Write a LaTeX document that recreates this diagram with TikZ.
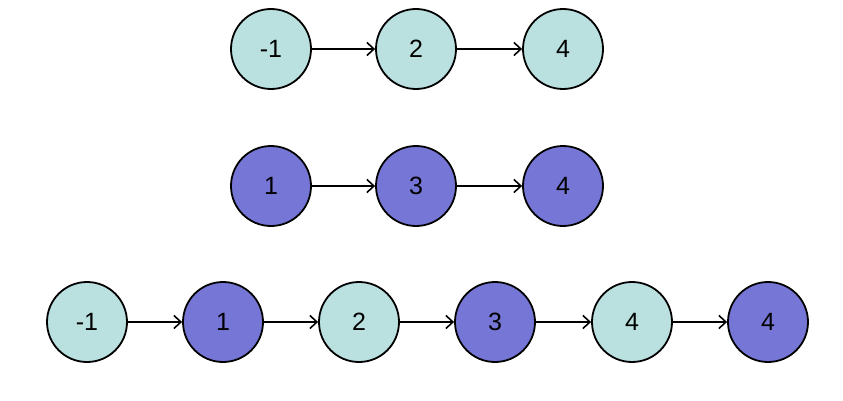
\documentclass[tikz,border=0pt]{standalone}
\usepackage{fontspec}
\setmainfont{Liberation Sans}
\usetikzlibrary{arrows.meta}
\definecolor{lightc}{HTML}{BAE0E0}
\definecolor{purp}{HTML}{7676D6}
\begin{document}
\begin{tikzpicture}[x=1pt,y=1pt,
  nd/.style={circle,draw=black,line width=1.8pt,minimum size=80pt,inner sep=0pt,font=\fontsize{25}{27}\selectfont},
  lc/.style={nd,fill=lightc},
  pc/.style={nd,fill=purp},
  arr/.style={line width=1.6pt,-{Straight Barb[length=7pt,width=13pt,line width=1.6pt]}}]
\useasboundingbox (0,0) rectangle (843,400);
\node[lc] (a1) at (271,351) {-1};
\node[lc] (a2) at (416,351) {2};
\node[lc] (a3) at (563,351) {4};
\draw[arr] (a1) -- (a2);
\draw[arr] (a2) -- (a3);
\node[pc] (b1) at (271,214) {1};
\node[pc] (b2) at (416,214) {3};
\node[pc] (b3) at (563,214) {4};
\draw[arr] (b1) -- (b2);
\draw[arr] (b2) -- (b3);
\node[lc] (c1) at (87,78) {-1};
\node[pc] (c2) at (223,78) {1};
\node[lc] (c3) at (359,78) {2};
\node[pc] (c4) at (495,78) {3};
\node[lc] (c5) at (632,78) {4};
\node[pc] (c6) at (768,78) {4};
\draw[arr] (c1) -- (c2);
\draw[arr] (c2) -- (c3);
\draw[arr] (c3) -- (c4);
\draw[arr] (c4) -- (c5);
\draw[arr] (c5) -- (c6);
\end{tikzpicture}
\end{document}
